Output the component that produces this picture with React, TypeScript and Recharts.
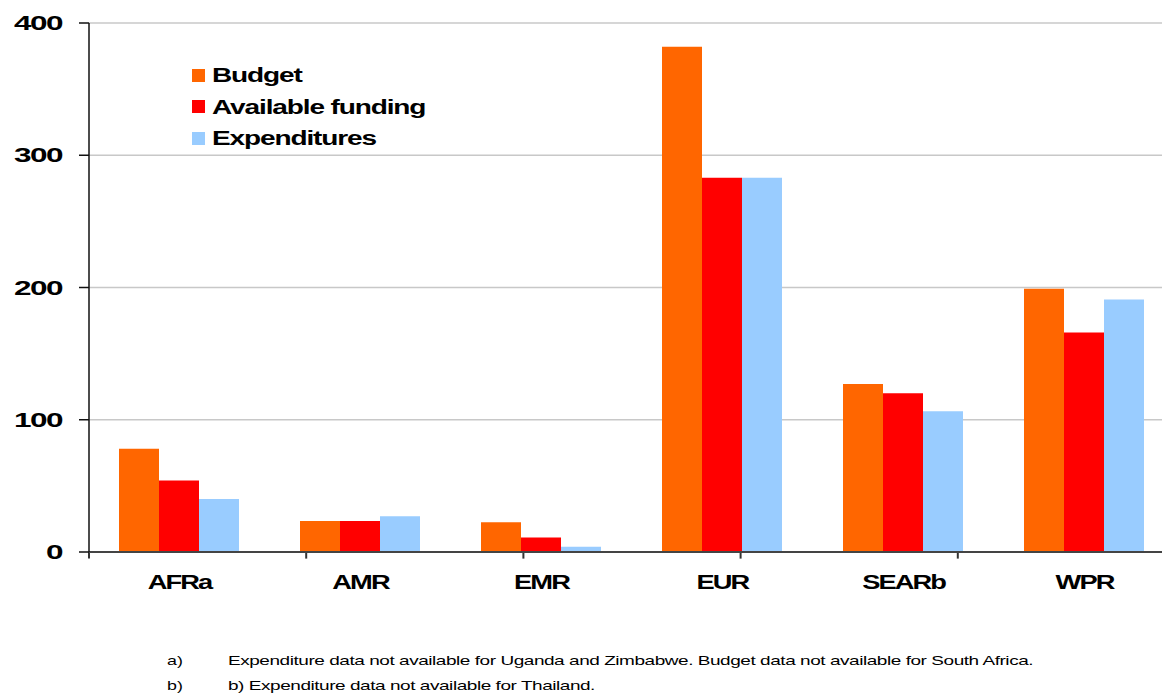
import React from 'react';
import { BarChart, Bar, XAxis, YAxis, CartesianGrid, Legend, ReferenceLine } from 'recharts';

const categories = ['AFRa', 'AMR', 'EMR', 'EUR', 'SEARb', 'WPR'];
const budget = [78, 23.5, 22.5, 382, 127, 199];
const availableFunding = [54, 23.5, 11, 283, 120, 166];
const expenditures = [40, 27, 4, 283, 106.5, 191];
const yTicks = [0, 100, 200, 300, 400];
const edgeTicks = [0, 1, 2, 3, 4, 5, 6];
const seriesNames = ['Budget', 'Available funding', 'Expenditures'];
const seriesColors = ['#FF6600', '#FF0000', '#99CCFF'];
const footnoteMarks = ['a)', 'b)'];
const footnoteTexts = [
  'Expenditure data not available  for Uganda and Zimbabwe. Budget data not available for South Africa.',
  'b) Expenditure data not available for Thailand.',
];

const data = categories.map((c, i) => ({
  name: c,
  budget: budget[i],
  funding: availableFunding[i],
  exp: expenditures[i],
}));

const FONT = '"Liberation Sans", Arial, sans-serif';

const YTick = (props: any) => {
  const { x, y, payload } = props;
  return (
    <text
      transform={`translate(${x},${y}) scale(1.5,1)`}
      textAnchor="end"
      dominantBaseline="central"
      fontFamily={FONT}
      fontWeight="bold"
      fontSize={21}
      letterSpacing={-1}
      fill="#000"
    >
      {payload.value}
    </text>
  );
};

const XTick = (props: any) => {
  const { x, y, payload } = props;
  return (
    <text
      transform={`translate(${x},${y + 37}) scale(1.3,1)`}
      textAnchor="middle"
      fontFamily={FONT}
      fontWeight="bold"
      fontSize={21}
      letterSpacing={-1.5}
      fill="#000"
    >
      {payload.value}
    </text>
  );
};

const LegendContent = () => {
  return (
    <div>
      {seriesNames.map((name, i) => (
        <div key={name} style={{ display: 'flex', alignItems: 'center', height: 31.5 }}>
          <span style={{ width: 13, height: 13, background: seriesColors[i], display: 'inline-block', marginRight: 7 }} />
          <span
            style={{
              fontFamily: FONT,
              fontWeight: 'bold',
              fontSize: 20,
              letterSpacing: '-0.8px',
              color: '#000',
              display: 'inline-block',
              transform: 'scaleX(1.4)',
              transformOrigin: 'left center',
              whiteSpace: 'nowrap',
              lineHeight: '20px',
            }}
          >
            {name}
          </span>
        </div>
      ))}
    </div>
  );
};

export default function App() {
  return (
    <div style={{ position: 'absolute', left: 0, top: 0, width: 1162, height: 697, overflow: 'hidden', background: '#fff' }}>
      <BarChart
        width={1200}
        height={600}
        data={data}
        margin={{ top: 23, right: 25, bottom: 0, left: 0 }}
        barCategoryGap={30}
        barGap={0}
      >
        <CartesianGrid vertical={false} stroke="#c8c8c8" strokeWidth={1.5} />
        <XAxis
          dataKey="name"
          height={48}
          tickLine={false}
          tickSize={0}
          tickMargin={0}
          axisLine={{ stroke: '#444', strokeWidth: 2 }}
          tick={<XTick />}
          interval={0}
        />
        <XAxis xAxisId="edges" type="number" domain={[0, 6]} hide allowDataOverflow />
        <YAxis
          width={89}
          domain={[0, 400]}
          ticks={yTicks}
          tickSize={10}
          tickMargin={17}
          axisLine={{ stroke: '#111', strokeWidth: 1.5 }}
          tickLine={{ stroke: '#111', strokeWidth: 1.5 }}
          tick={<YTick />}
          interval={0}
        />
        <Legend
          layout="vertical"
          align="center"
          verticalAlign="middle"
          content={<LegendContent />}
          wrapperStyle={{ left: 192, top: 59.5, width: 300, height: 100 }}
        />
        <Bar dataKey="budget" name={seriesNames[0]} fill={seriesColors[0]} isAnimationActive={false} />
        <Bar dataKey="funding" name={seriesNames[1]} fill={seriesColors[1]} isAnimationActive={false} />
        <Bar dataKey="exp" name={seriesNames[2]} fill={seriesColors[2]} isAnimationActive={false} />
        {edgeTicks.map((t) => (
          <ReferenceLine
            key={t}
            xAxisId="edges"
            segment={[{ x: t, y: 0 }, { x: t, y: -5 }]}
            ifOverflow="visible"
            stroke="#333"
            strokeWidth={2}
          />
        ))}
      </BarChart>
      <svg
        width={1162}
        height={697}
        style={{ position: 'absolute', left: 0, top: 0, pointerEvents: 'none' }}
      >
        {footnoteMarks.map((m, i) => (
          <g key={m}>
            <text
              transform={`translate(167,${665 + i * 25}) scale(1.37,1)`}
              fontFamily={FONT}
              fontSize={13}
              fill="#000"
            >
              {m}
            </text>
            <text
              transform={`translate(228,${665 + i * 25}) scale(1.46,1)`}
              fontFamily={FONT}
              fontSize={13}
              letterSpacing={-0.3}
              fill="#000"
            >
              {footnoteTexts[i]}
            </text>
          </g>
        ))}
      </svg>
    </div>
  );
}
